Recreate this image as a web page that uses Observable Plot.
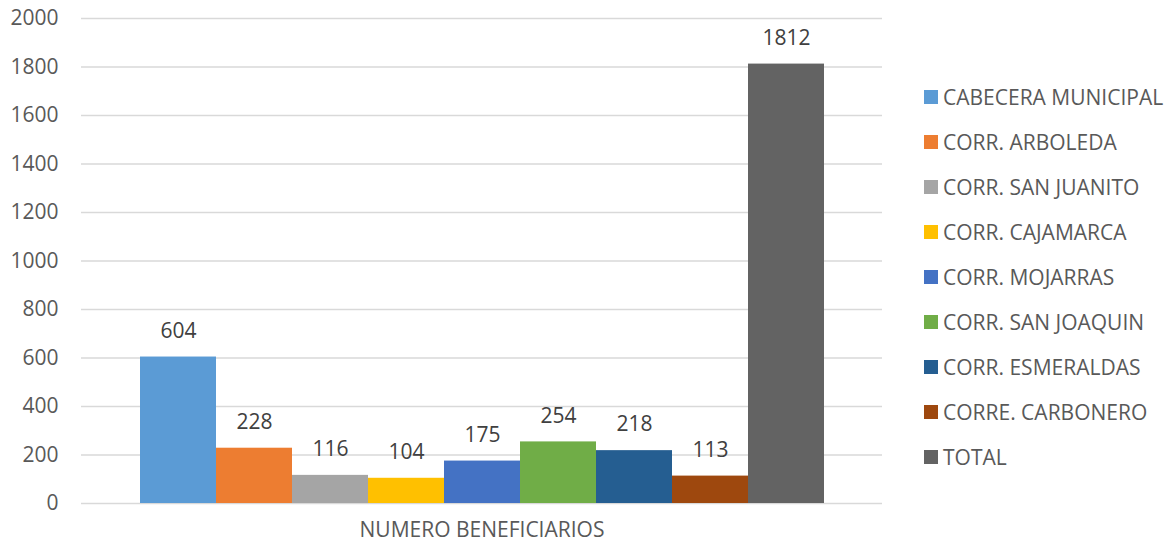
<!DOCTYPE html>
<html>
<head>
<meta charset="utf-8">
<script src="https://cdn.jsdelivr.net/npm/d3@7"></script>
<script src="https://cdn.jsdelivr.net/npm/@observablehq/plot@0.6"></script>
<style>
  html, body { margin: 0; padding: 0; background: #fff; }
  #wrap { position: relative; width: 1169px; height: 548px; font-family: "Open Sans", sans-serif; }
  #legend { position: absolute; left: 924px; top: 97px; }
  .item { position: absolute; left: 0; height: 22px; display: flex; align-items: center; white-space: nowrap;
          font-size: 21px; color: #595959; transform: translateY(-50%); }
  .sw { width: 14px; height: 14px; margin-right: 5px; flex: none; }
</style>
</head>
<body>
<div id="wrap"><div id="legend"></div></div>
<script>
const categories = ["CABECERA MUNICIPAL", "CORR. ARBOLEDA", "CORR. SAN JUANITO", "CORR. CAJAMARCA",
  "CORR. MOJARRAS", "CORR. SAN JOAQUIN", "CORR. ESMERALDAS", "CORRE. CARBONERO", "TOTAL"];
const values = [604, 228, 116, 104, 175, 254, 218, 113, 1812];
const colors = ["#5B9BD5", "#ED7D31", "#A5A5A5", "#FFC000", "#4472C4", "#70AD47", "#255E91", "#9E480E", "#636363"];
const yTicks = [0, 200, 400, 600, 800, 1000, 1200, 1400, 1600, 1800, 2000];
const xLabel = "NUMERO BENEFICIARIOS";

const data = categories.map((c, i) => ({name: c, value: values[i]}));

const chart = Plot.plot({
  width: 900,
  height: 548,
  marginTop: 18,
  marginBottom: 45,
  marginLeft: 81,
  marginRight: 18,
  style: {fontFamily: "Open Sans, sans-serif", fontSize: "21px", background: "#fff"},
  x: {domain: categories, range: [138, 825], padding: 0, axis: null},
  y: {domain: [0, 2000], ticks: yTicks, label: null},
  color: {domain: categories, range: colors},
  marks: [
    Plot.gridY(yTicks, {stroke: "#D9D9D9", strokeOpacity: 1, strokeWidth: 1.5}),
    Plot.axisY(yTicks, {tickSize: 0, tickPadding: 23, fill: "#595959", fontSize: 21, label: null, tickFormat: d => String(d)}),
    Plot.barY(data, {x: "name", y: "value", fill: "name", inset: 0}),
    Plot.text(data, {x: "name", y: "value", text: d => String(d.value), dy: -26, fill: "#404040", fontSize: 21}),
    Plot.text([xLabel], {frameAnchor: "bottom", text: d => d, dy: 33, fill: "#595959", fontSize: 21})
  ]
});
document.getElementById("wrap").prepend(chart);
chart.style.position = "absolute";
chart.style.left = "0";
chart.style.top = "0";

const legend = document.getElementById("legend");
categories.forEach((c, i) => {
  const item = document.createElement("div");
  item.className = "item";
  item.style.top = (i * 45) + "px";
  const sw = document.createElement("span");
  sw.className = "sw";
  sw.style.background = colors[i];
  const tx = document.createElement("span");
  tx.textContent = c;
  item.appendChild(sw);
  item.appendChild(tx);
  legend.appendChild(item);
});
</script>
</body>
</html>
